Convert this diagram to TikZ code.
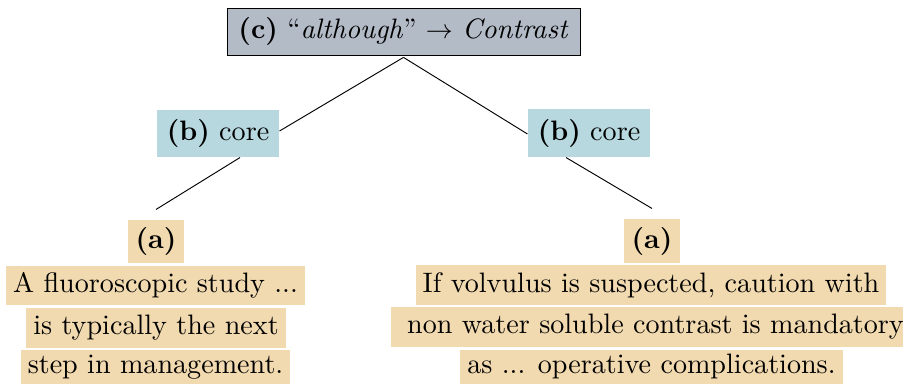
\documentclass[tikz,border=0pt]{standalone}
\definecolor{topgray}{RGB}{179,187,199}
\definecolor{coreblue}{RGB}{182,216,222}
\definecolor{tanbg}{RGB}{242,218,176}
\tikzset{
  box/.style={inner sep=0pt, anchor=center, font=\fontsize{10.45}{12.5}\selectfont},
  topbox/.style={box, draw=black, line width=0.3pt, fill=topgray},
  corebox/.style={box, fill=coreblue},
  tanbox/.style={box, fill=tanbg},
  edge/.style={draw=black, line width=0.35pt}
}
\begin{document}
\begin{tikzpicture}[x=0.3717pt, y=-0.3717pt]
\useasboundingbox (0,0) rectangle (903,384);
\clip (0,0) rectangle (903,384);
\node[topbox, minimum width=353*0.3717pt, minimum height=47*0.3717pt] (top) at (403.5,31.5)
  {\textbf{(c)} ``\textit{although}'' $\rightarrow$ \textit{Contrast}};
\node[corebox, minimum width=122*0.3717pt, minimum height=47*0.3717pt] (coreL) at (218,133.5) {\textbf{(b)} core};
\node[corebox, minimum width=122*0.3717pt, minimum height=48*0.3717pt] (coreR) at (589,133) {\textbf{(b)} core};
\node[tanbox, minimum width=56*0.3717pt, minimum height=43*0.3717pt] (aL) at (156,241.5) {\textbf{(a)}};
\node[tanbox, minimum width=56*0.3717pt, minimum height=44*0.3717pt] (aR) at (652,241) {\textbf{(a)}};
\node[tanbox, minimum width=299*0.3717pt, minimum height=39*0.3717pt] (l1) at (155.5,285.5) {A fluoroscopic study ...};
\node[tanbox, minimum width=260*0.3717pt, minimum height=40*0.3717pt] (l2) at (156,328) {is typically the next};
\node[tanbox, minimum width=269*0.3717pt, minimum height=34*0.3717pt] (l3) at (155.5,367) {step in management.};
\node[tanbox, minimum width=470*0.3717pt, minimum height=40*0.3717pt] (r1) at (651,285) {If volvulus is suspected, caution with};
\node[tanbox, minimum width=529*0.3717pt, minimum height=40*0.3717pt] (r2) at (655.5,327) {non water soluble contrast is mandatory};
\node[tanbox, minimum width=383*0.3717pt, minimum height=34*0.3717pt] (r3) at (651.5,366.5) {as ... operative complications.};
\draw[edge] ([yshift=-2*0.3717pt]top.south) -- ([yshift=2.5*0.3717pt]coreL.east);
\draw[edge] ([yshift=-2*0.3717pt]top.south) -- ([yshift=-1*0.3717pt]coreR.west);
\draw[edge] ([xshift=22*0.3717pt]coreL.south) -- ([yshift=10*0.3717pt]aL.north);
\draw[edge] ([xshift=-23*0.3717pt]coreR.south) -- ([yshift=10*0.3717pt]aR.north);
\end{tikzpicture}
\end{document}
